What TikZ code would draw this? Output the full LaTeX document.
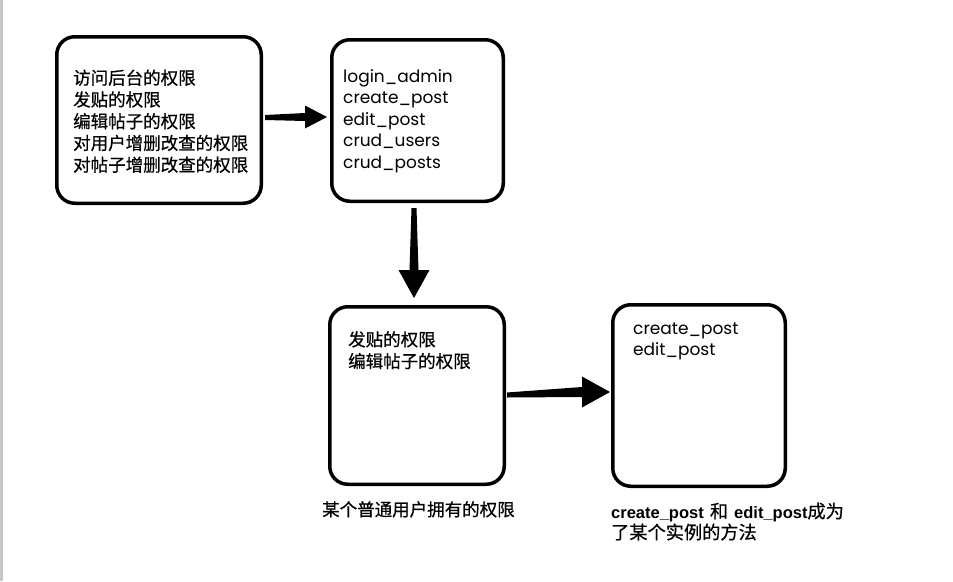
\documentclass[tikz,border=0pt]{standalone}
\usepackage{fontspec}
\setmainfont{Poppins}
\newfontfamily\cjk{Noto Sans CJK SC}[FakeBold=0.6]
\newfontfamily\arialf{Liberation Sans}
\usetikzlibrary{calc}
\newcommand\harrow[6]{%
  \fill[arrowfill] ($(#1)+(0,-#3)$) -- ($(#2)+(-#6,-#4)$) -- ($(#2)+(-#6,-#5)$) -- (#2)
    -- ($(#2)+(-#6,#5)$) -- ($(#2)+(-#6,#4)$) -- ($(#1)+(0,#3)$) -- cycle;}
\newcommand\varrow[6]{%
  \fill[arrowfill] ($(#1)+(-#3,0)$) -- ($(#2)+(-#4,-#6)$) -- ($(#2)+(-#5,-#6)$) -- (#2)
    -- ($(#2)+(#5,-#6)$) -- ($(#2)+(#4,-#6)$) -- ($(#1)+(#3,0)$) -- cycle;}
\begin{document}
\begin{tikzpicture}[x=1pt,y=-1pt,
  box/.style={draw=black, line width=3.5pt, rounded corners=18pt, fill=white, inner sep=0pt},
  arrowfill/.style={fill=black},
  cjktext/.style={anchor=base west, inner sep=0pt, text width=300pt, align=left,
    font=\cjk\fontsize{17.5}{21.75}\selectfont},
  lattext/.style={anchor=base west, inner sep=0pt, text width=300pt, align=left,
    font=\fontsize{17}{21.5}\selectfont},
  captext/.style={anchor=base west, inner sep=0pt, text width=300pt, align=left,
    font=\cjk\fontsize{17.5}{21}\selectfont},
  boldlat/.style={font=\arialf\bfseries\fontsize{16.5}{21}\selectfont}]
\useasboundingbox (0,0) rectangle (953,581);
\fill[white] (0,0) rectangle (953,581);
\draw[gray!45, line width=2.5pt] (1.5,0) -- (1.5,581);

\node[box, minimum width=204.5pt, minimum height=166.5pt] (A) at (159,120) {};
\node[box, minimum width=171.5pt, minimum height=161.5pt] (B) at (417.5,120.5) {};
\node[box, minimum width=174.5pt, minimum height=177.5pt] (C) at (417,395.5) {};
\node[box, minimum width=172.5pt, minimum height=181.5pt] (D) at (699,395.5) {};

\node[cjktext] (At) at (73,84.4) {访问后台的权限\\发贴的权限\\编辑帖子的权限\\对用户增删改查的权限\\对帖子增删改查的权限};
\node[lattext] (Bt) at (343,82) {login\_admin\\create\_post\\edit\_post\\crud\_users\\crud\_posts};
\node[cjktext] (Ct) at (348,346) {发贴的权限\\编辑帖子的权限};
\node[lattext] (Dt) at (633,334) {create\_post\\edit\_post};

\node[captext] (Ccap) at (322,516) {某个普通用户拥有的权限};
\node[captext, font=\cjk\fontsize{18.2}{21}\selectfont] (Dcap) at (611,518) {{\arialf\bfseries\fontsize{16.5}{21}\selectfont create\_post} 和 {\arialf\bfseries\fontsize{16.5}{21}\selectfont edit\_post}成为\\了某个实例的方法};

\coordinate (ab-s) at ([shift={(2,-2.5)}]A.east);
\coordinate (ab-e) at ([shift={(-3,-3.5)}]B.west);
\harrow{ab-s}{ab-e}{2.5}{4}{11.5}{22}
\coordinate (bc-s) at ([shift={(-3.5,5)}]B.south);
\coordinate (bc-e) at ([shift={(-3,-7)}]C.north);
\varrow{bc-s}{bc-e}{2.5}{4.5}{15.5}{28}
\coordinate (cd-s) at ([shift={(1,-0.5)}]C.east);
\coordinate (cd-e) at ([shift={(-1,-3.5)}]D.west);
\harrow{cd-s}{cd-e}{2.5}{5}{15.5}{28}
\end{tikzpicture}
\end{document}
